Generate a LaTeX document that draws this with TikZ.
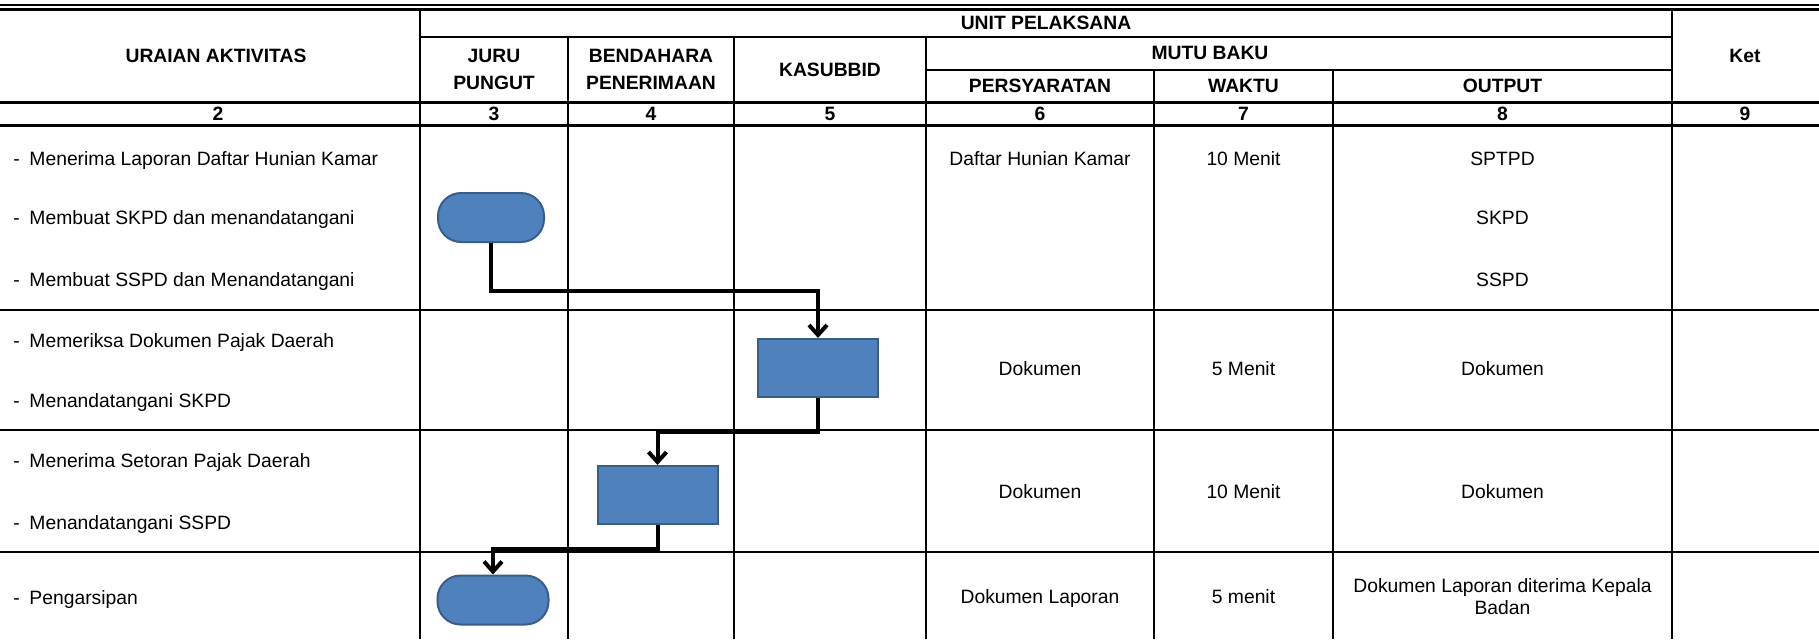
\documentclass[tikz,border=0pt]{standalone}
\usepackage{fontspec}
\setmainfont{Liberation Sans}
\usepackage{xcolor}
\usepackage{tikz}
\definecolor{sopBlue}{HTML}{4F81BD}
\definecolor{sopBlueDark}{HTML}{385D8A}
\usetikzlibrary{arrows.meta}

\begin{document}
\begin{tikzpicture}[x=0.5pt,y=-0.5pt,
  every node/.style={font=\fontsize{9.65}{11}\selectfont, inner sep=0pt},
  cell/.style={text height=6.9pt, text depth=0pt},
  hdr/.style={cell, font=\fontsize{9.65}{11}\selectfont\bfseries},
  hdrtwo/.style={align=center, font=\fontsize{9.65}{13.3}\selectfont\bfseries},
  terminal/.style={draw=sopBlueDark, fill=sopBlue, line width=1pt, rounded corners=11.5pt, minimum width=53pt, minimum height=24.5pt},
  process/.style={draw=sopBlueDark, fill=sopBlue, line width=1pt, minimum width=60pt, minimum height=29pt},
  flow/.style={-{Straight Barb[length=5pt,width=9pt]}, line width=2pt}]
  \useasboundingbox (0,0) rectangle (1819,639);
  % header rules
  \draw[line width=0.6pt] (0,5) -- (1819,5);
  \draw[line width=1.5pt] (0,9.5) -- (1819,9.5);
  \draw[line width=1pt] (420,37) -- (1672,37);
  \draw[line width=1pt] (926,69.6) -- (1672,69.6);
  \draw[line width=1.5pt] (0,102) -- (1819,102);
  \draw[line width=1.5pt] (0,125) -- (1819,125);
  \foreach \y in {310,430,552} {
    \draw[line width=0.65pt] (0,\y) -- (1819,\y);
  }
  \foreach \x/\ytop in {420/9.5,568/37,734/37,926/37,1154/69.6,1333/69.6,1672/9.5} {
    \draw[line width=1pt] (\x,\ytop) -- (\x,639);
  }
  % header texts
  \node[hdr] (uraian) at (216,56) {URAIAN AKTIVITAS};
  \node[hdr] (unit) at (1046,23) {UNIT PELAKSANA};
  \node[hdrtwo] (juru) at (494,69.5) {JURU\\PUNGUT};
  \node[hdrtwo] (bendahara) at (651,69.5) {BENDAHARA\\PENERIMAAN};
  \node[hdr] (kasubbid) at (830,69.5) {KASUBBID};
  \node[hdr] (mutu) at (1210,53) {MUTU BAKU};
  \node[hdr] (syarat) at (1040,86) {PERSYARATAN};
  \node[hdr] (waktu) at (1243.5,86) {WAKTU};
  \node[hdr] (output) at (1502.5,86) {OUTPUT};
  \node[hdr] (ket) at (1745,56) {Ket};
  \foreach \x/\n in {218/2,494/3,651/4,830/5,1040/6,1243.5/7,1502.5/8,1745/9} {
    \node[hdr] (num\n) at (\x,113.5) {\n};
  }
  % aktivitas
  \foreach \y/\txt [count=\i] in {159/Menerima Laporan Daftar Hunian Kamar,218/Membuat SKPD dan menandatangani,280/Membuat SSPD dan Menandatangani,341/Memeriksa Dokumen Pajak Daerah,401/Menandatangani SKPD,461/Menerima Setoran Pajak Daerah,523/Menandatangani SSPD,598/Pengarsipan} {
    \node[cell, anchor=west] (act\i) at (13,\y) {-\hspace{0.5em}\txt};
  }
  % mutu baku
  \foreach \y/\syarat/\waktu/\hasil [count=\i] in {159/Daftar Hunian Kamar/10 Menit/SPTPD,369/Dokumen/5 Menit/Dokumen,492/Dokumen/10 Menit/Dokumen} {
    \node[cell] (syarat\i) at (1040,\y) {\syarat};
    \node[cell] (waktu\i) at (1243.5,\y) {\waktu};
    \node[cell] (hasil\i) at (1502.5,\y) {\hasil};
  }
  \node[cell] (skpd) at (1502.5,218) {SKPD};
  \node[cell] (sspd) at (1502.5,280) {SSPD};
  \node[cell] (syarat4) at (1040,597) {Dokumen Laporan};
  \node[cell] (waktu4) at (1243.5,597) {5 menit};
  \node[align=center, font=\fontsize{9.65}{11}\selectfont] (hasil4) at (1502.5,597) {Dokumen Laporan diterima Kepala\\Badan};
  % alur
  \node[terminal] (jp1) at (491,217.5) {};
  \node[process] (kas1) at (818,368) {};
  \node[process] (ben1) at (657.5,495) {};
  \node[terminal, minimum width=55.5pt] (jp2) at (493,600) {};
  \draw[flow] (jp1.south) -- ++(0,48) -| (kas1.north);
  \draw[flow] (kas1.south) -- ++(0,34) -| (ben1.north);
  \draw[flow] (ben1.south) -- ++(0,24) -| (jp2.north);
\end{tikzpicture}
\end{document}
